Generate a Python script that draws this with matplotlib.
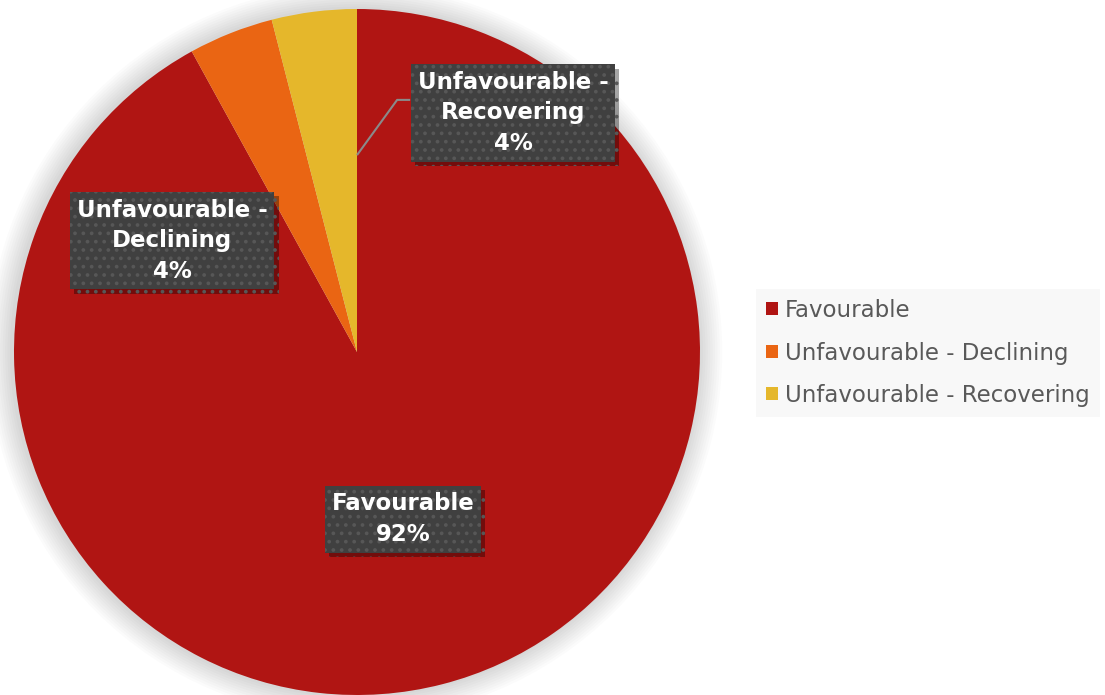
import numpy as np
import matplotlib
matplotlib.use("Agg")
import matplotlib.pyplot as plt
import matplotlib.patheffects as pe
from matplotlib.patches import Circle

# status counts per category
categories = ["Favourable", "Unfavourable - Declining", "Unfavourable - Recovering"]
counts = [23, 1, 1]
colours = ["#B01513", "#EA6513", "#E5B72B"]
label_text = ["Favourable", "Unfavourable -\nDeclining", "Unfavourable -\nRecovering"]

plt.rcParams['font.family'] = ["DejaVu Sans"]
plt.rcParams['hatch.linewidth'] = 1.5

W, H = 1105, 695
fig = plt.figure(figsize=(W / 100, H / 100), dpi=100)
fig.patch.set_facecolor("white")

# pie centre (357, 352) px, radius 343 px
cx, cy, r = 357, 352, 343
ax = fig.add_axes([(cx - r) / W, (H - cy - r) / H, 2 * r / W, 2 * r / H])

# soft shadow around the pie
for k in range(10):
    ax.add_patch(Circle((-0.005, 0.0), 1.0 + 0.007 * (k + 1), color="black",
                        alpha=0.014, lw=0, zorder=0, clip_on=False))

wedges, _ = ax.pie(counts, colors=colours, startangle=90, counterclock=False,
                   radius=1.0, wedgeprops=dict(linewidth=0))
for w in wedges:
    w.set_zorder(2)
ax.set_xlim(-1, 1)
ax.set_ylim(-1, 1)
ax.set_aspect("equal")
ax.axis("off")

total = float(sum(counts))
pcts = [round(100 * c / total) for c in counts]

# label positions (data units, relative to pie centre)
label_pos = [(0.134, -0.487), (-0.539, 0.324), (0.455, 0.697)]

for txt, p, pos in zip(label_text, pcts, label_pos):
    t = ax.text(pos[0], pos[1], f"{txt}\n{p}%", ha="center", va="center",
                fontsize=16.5, fontweight="bold", color="white",
                linespacing=1.4, zorder=5,
                bbox=dict(boxstyle="square,pad=0.3", fc="#404040",
                          ec="#575757", lw=0, hatch=".."))
    t.get_bbox_patch().set_path_effects([
        pe.SimplePatchShadow(offset=(3, -3), shadow_rgbFace="black", alpha=0.35),
        pe.Normal()])

# leader line for the recovering label
ax.plot([0.0, 0.117, 0.155], [0.574, 0.735, 0.735], color="#8a8a8a",
        lw=1.5, zorder=4, solid_capstyle="butt")

leg = fig.legend(wedges, categories, loc="center left",
                 bbox_to_anchor=(756 / W, 1 - 353 / H),
                 fontsize=16.5, frameon=True, fancybox=False,
                 handlelength=0.5, handleheight=0.5, handletextpad=0.3,
                 labelspacing=0.85, borderpad=0.45, borderaxespad=0)
leg.get_frame().set_facecolor("#F7F7F7")
leg.get_frame().set_edgecolor("none")
for t in leg.get_texts():
    t.set_color("#595959")

fig.savefig("out.png", dpi=100, facecolor="white")
